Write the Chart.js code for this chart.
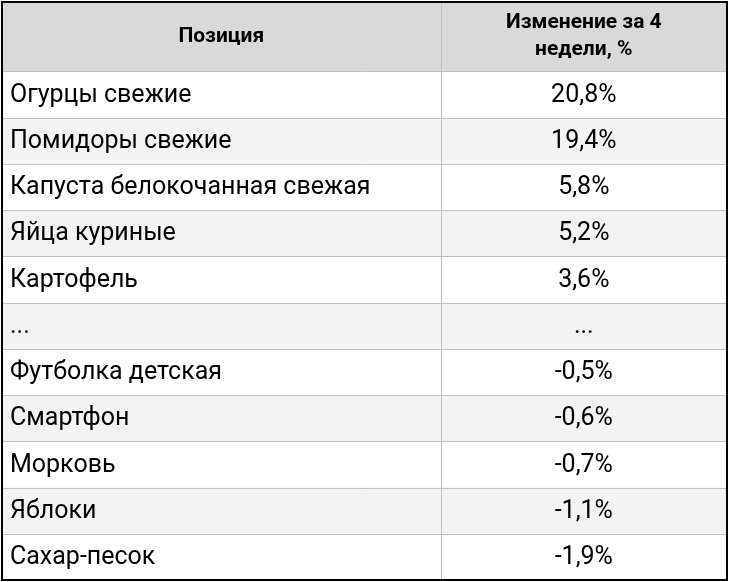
<!DOCTYPE html>
<html><head><meta charset="utf-8">
<script src="https://cdn.jsdelivr.net/npm/chart.js@4"></script>
<style>html,body{margin:0;padding:0;background:#fff}#w{width:730px;height:582px}</style>
</head><body><div id="w"><canvas id="c"></canvas></div>
<script>
const headers = ["Позиция", "Изменение за 4\nнедели, %"];
const positions = ["Огурцы свежие","Помидоры свежие","Капуста белокочанная свежая","Яйца куриные","Картофель","...","Футболка детская","Смартфон","Морковь","Яблоки","Сахар-песок"];
const changes = ["20,8%","19,4%","5,8%","5,2%","3,6%","...","-0,5%","-0,6%","-0,7%","-1,1%","-1,9%"];

const HEAD = 1.5;
const tablePlugin = {
  id: 'table',
  afterDraw(chart) {
    const ctx = chart.ctx, x = chart.scales.x, y = chart.scales.y;
    const L = x.getPixelForValue(0), R = x.getPixelForValue(1), M = x.getPixelForValue(0.605);
    const T = y.getPixelForValue(0), B = y.getPixelForValue(HEAD + positions.length);
    ctx.save();
    ctx.fillStyle = '#d9d9d9';
    ctx.fillRect(L, T, R - L, y.getPixelForValue(HEAD) - T);
    positions.forEach((p, i) => {
      const t = y.getPixelForValue(HEAD + i), b = y.getPixelForValue(HEAD + i + 1);
      ctx.fillStyle = i % 2 ? '#f3f3f3' : '#ffffff';
      ctx.fillRect(L, t, R - L, b - t);
      const cy = (t + b) / 2 + 1;
      ctx.fillStyle = '#000';
      ctx.font = '25px Roboto';
      ctx.textBaseline = 'middle';
      ctx.textAlign = 'left';
      ctx.fillText(p, L + 8, cy);
      ctx.textAlign = 'center';
      ctx.fillText(changes[i], (M + R) / 2, cy);
    });
    ctx.strokeStyle = '#bfbfbf'; ctx.lineWidth = 1;
    for (let i = 0; i <= positions.length; i++) {
      const yy = Math.round(y.getPixelForValue(HEAD + i)) + 0.5;
      ctx.beginPath(); ctx.moveTo(L, yy); ctx.lineTo(R, yy); ctx.stroke();
    }
    ctx.beginPath(); ctx.moveTo(Math.round(M) + 0.5, T); ctx.lineTo(Math.round(M) + 0.5, B); ctx.stroke();
    ctx.fillStyle = '#000'; ctx.font = 'bold 21px Roboto'; ctx.textAlign = 'center'; ctx.textBaseline = 'middle';
    const hc = (T + y.getPixelForValue(HEAD)) / 2;
    ctx.fillText(headers[0], (L + M) / 2, hc);
    const lines = headers[1].split('\n');
    lines.forEach((ln, k) => ctx.fillText(ln, (M + R) / 2, hc + (k - (lines.length - 1) / 2) * 27));
    ctx.strokeStyle = '#000'; ctx.lineWidth = 2;
    ctx.strokeRect(L, T, R - L, B - T);
    ctx.restore();
  }
};

new Chart(document.getElementById('c'), {
  type: 'scatter',
  data: { datasets: [{ data: [] }] },
  options: {
    responsive: true, maintainAspectRatio: false, animation: false,
    layout: { padding: { left: 2, right: 3, top: 2, bottom: 2 } },
    plugins: { legend: { display: false }, tooltip: { enabled: false } },
    scales: {
      x: { type: 'linear', min: 0, max: 1, display: false, offset: false },
      y: { type: 'linear', min: 0, max: HEAD + positions.length, reverse: true, display: false, offset: false }
    }
  },
  plugins: [tablePlugin]
});
</script></body></html>
